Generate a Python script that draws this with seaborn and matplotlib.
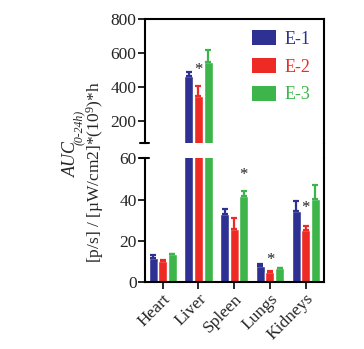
import numpy as np
import pandas as pd
import seaborn as sns
import matplotlib.pyplot as plt
from matplotlib.lines import Line2D
from matplotlib.patches import Patch

# data
organs = ["Heart", "Liver", "Spleen", "Lungs", "Kidneys"]
groups = ["E-1", "E-2", "E-3"]
auc_e1 = [11.6, 463, 33.0, 7.7, 34.3]
auc_e2 = [10.4, 346, 25.6, 4.8, 25.1]
auc_e3 = [13.5, 547, 41.8, 6.9, 40.1]
err_e1 = [1.4, 25, 2.6, 1.1, 5.1]
err_e2 = [0.3, 60, 5.3, 0.5, 2.0]
err_e3 = [0.2, 68, 2.5, 0.2, 6.9]

star_organs = ["Liver", "Spleen", "Lungs", "Kidneys"]
star_groups = ["E-2", "E-3", "E-2", "E-2"]
star_values = [498, 51.8, 10.8, 35.7]

colors = ["#2E3192", "#EE2A24", "#3DB54A"]

df = pd.DataFrame({
    "organ": organs * 3,
    "group": [g for g in groups for _ in organs],
    "auc": auc_e1 + auc_e2 + auc_e3,
    "err": err_e1 + err_e2 + err_e3,
})

sns.set_theme(style="ticks")
plt.rcParams["font.family"] = ["Liberation Serif", "DejaVu Serif"]
plt.rcParams["mathtext.fontset"] = "custom"
plt.rcParams["mathtext.rm"] = "Liberation Serif"
plt.rcParams["mathtext.it"] = "Liberation Serif:italic"
plt.rcParams["mathtext.default"] = "regular"

fig = plt.figure(figsize=(3.64, 3.49), dpi=100)
left, width = 0.398, 0.491
ax_top = fig.add_axes([left, 0.589, width, 0.357])
ax_bot = fig.add_axes([left, 0.191, width, 0.356])
ax_top.set_ylim(65, 800)
ax_bot.set_ylim(0, 60)

for ax in (ax_top, ax_bot):
    lo, hi = ax.get_ylim()
    sns.barplot(data=df, x="organ", y="auc", hue="group", order=organs,
                hue_order=groups, palette=colors, gap=0.06, saturation=1,
                errorbar=None, legend=False, ax=ax)
    for cont, g, c in zip(ax.containers, groups, colors):
        xs = [b.get_x() + b.get_width() / 2 for b in cont]
        sub = df[df["group"] == g].set_index("organ").loc[organs]
        ax.errorbar(xs, sub["auc"], yerr=[np.zeros(len(xs)), sub["err"]],
                    fmt="none", ecolor=c, elinewidth=1.6, capsize=2.5,
                    capthick=1.6)
    # significance stars, only on the panel whose range holds them
    for o, g, v in zip(star_organs, star_groups, star_values):
        if not (lo <= v <= hi):
            continue
        b = ax.containers[groups.index(g)][organs.index(o)]
        ax.text(b.get_x() + b.get_width() / 2, v, "*", ha="center",
                va="center", fontsize=12, color="#222222")
    ax.set_ylim(lo, hi)
    ax.set_xlim(-0.5, 4.5)
    ax.set_xlabel("")
    ax.set_ylabel("")
    for s in ax.spines.values():
        s.set_linewidth(1.5)
        s.set_color("black")
    ax.tick_params(axis="both", length=5, width=1.4, labelsize=12.5, pad=1)

ax_top.set_yticks([200, 400, 600, 800])
ax_top.spines["bottom"].set_visible(False)
ax_top.tick_params(axis="x", bottom=False, labelbottom=False)

ax_bot.set_yticks([0, 20, 40, 60])
ax_bot.spines["top"].set_visible(False)
ax_bot.set_xticks(range(len(organs)))
ax_bot.set_xticklabels(organs, rotation=45, ha="right", rotation_mode="anchor")

# break marks on the left axis
cap = 4.5 / (width * 364)
ax_top.plot([-cap, cap], [0, 0], transform=ax_top.transAxes, color="black",
            lw=1.5, clip_on=False)
ax_bot.plot([-cap, cap], [1, 1], transform=ax_bot.transAxes, color="black",
            lw=1.5, clip_on=False)
# right frame runs through the gap
fig.add_artist(Line2D([left + width] * 2, [0.547, 0.589],
                      transform=fig.transFigure, color="black", lw=1.5))

handles = [Patch(facecolor=c, edgecolor="none") for c in colors]
leg = ax_top.legend(handles, groups, loc="upper right", frameon=False,
                    fontsize=13, handlelength=1.3, handleheight=0.9,
                    handletextpad=0.45, labelspacing=0.55,
                    bbox_to_anchor=(0.985, 0.995), borderaxespad=0.2)
for t, c in zip(leg.get_texts(), colors):
    t.set_color(c)

# y label (two lines)
fig.text(0.196, 0.492, "AUC", rotation=90, fontsize=13, style="italic",
         ha="center", va="bottom")
fig.text(0.216, 0.584, "(0-24h)", rotation=90, fontsize=8.5, style="italic",
         ha="center", va="bottom")
fig.text(0.262, 0.507, r"[p/s] / [µW/cm2]*(10$^{9}$)*h", rotation=90,
         fontsize=12.5, ha="center", va="center")

fig.savefig("out.png", dpi=100)
